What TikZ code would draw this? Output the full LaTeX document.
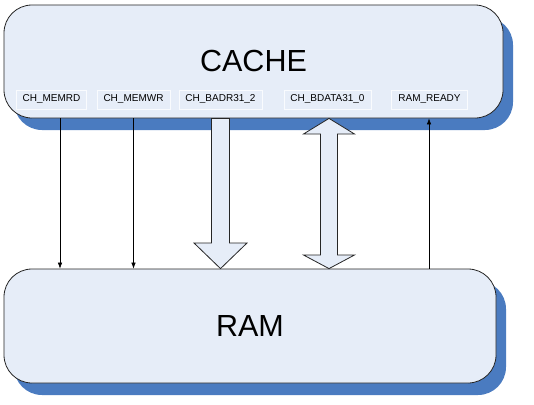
\documentclass[tikz,border=0pt]{standalone}
\usepackage{fontspec}
\setmainfont{Liberation Sans}
\usetikzlibrary{shadows,arrows.meta}
\definecolor{boxfill}{HTML}{E6EDF8}
\definecolor{shadowblue}{HTML}{4A7BC0}
\definecolor{sigline}{HTML}{F9FBFE}
\begin{document}
\begin{tikzpicture}[x=1pt, y=-1pt]
 \tikzstyle{bloc}=[rectangle, rounded corners=28pt, draw=black!85, line width=0.8pt, fill=boxfill,
   drop shadow={shadow xshift=10pt, shadow yshift=-12pt, fill=shadowblue, opacity=1},
   font=\fontsize{30.5}{36}\selectfont]
 \tikzstyle{signal}=[rectangle, draw=sigline, line width=0.8pt, fill=boxfill, minimum height=19pt,
   inner xsep=6.5pt, inner ysep=0pt, font=\fontsize{10}{12}\selectfont]
 \tikzstyle{fil}=[-{Latex[length=6pt,width=4.5pt]}, line width=0.6pt]
 \tikzstyle{bus}=[draw=black!85, line width=0.8pt, fill=boxfill, line join=miter]
 \useasboundingbox (0,0) rectangle (534,404);
 %
 \node[bloc, minimum width=499pt, minimum height=113pt] (CACHE) at (253.5, 61.5) {CACHE};
 \node[bloc, minimum width=492pt, minimum height=114pt] (RAM) at (250, 326) {RAM};
 %
 \node[signal] (MEMRD) at (51.5, 99.5) {CH\_MEMRD};
 \node[signal] (MEMWR) at (133.5, 99.5) {CH\_MEMWR};
 \node[signal] (BADR) at (220.5, 99.5) {CH\_BADR31\_2};
 \node[signal] (BDATA) at (327.5, 99.5) {CH\_BDATA31\_0};
 \node[signal] (READY) at (429.5, 99.5) {RAM\_READY};
 %%
 \draw[fil] (CACHE.south -| 60,0) -- (RAM.north -| 60,0);
 \draw[fil] (CACHE.south -| MEMWR.south) -- (RAM.north -| MEMWR.south);
 \draw[fil] (RAM.north -| 429,0) -- (CACHE.south -| 429,0);
 %
 \draw[bus] (CACHE.south -| 211.5,0) -- (211.5,243) -- (194,243) -- (RAM.north -| 220.5,0)
   -- (247,243) -- (229.5,243) -- (CACHE.south -| 229.5,0) -- cycle;
 \draw[bus] (CACHE.south -| 329,0) -- (354.5,134) -- (337.5,134) -- (337.5,255) -- (354.5,255)
   -- (RAM.north -| 329,0) -- (303.5,255) -- (320.5,255) -- (320.5,134) -- (303.5,134) -- cycle;
\end{tikzpicture}
\end{document}
